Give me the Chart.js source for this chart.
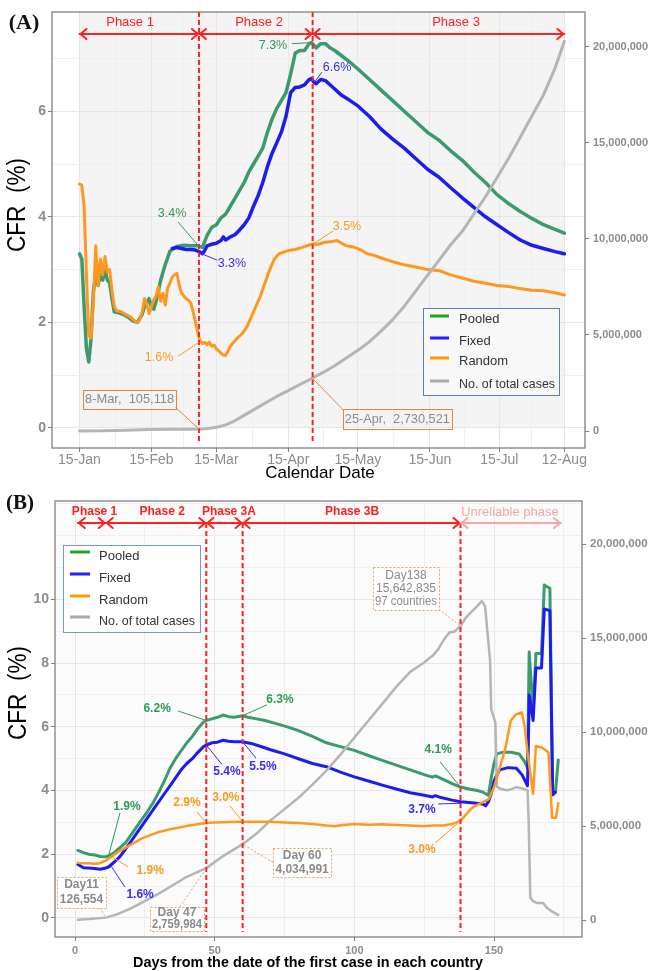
<!DOCTYPE html>
<html>
<head>
<meta charset="utf-8">
<title>CFR by phase</title>
<script src="https://cdn.jsdelivr.net/npm/chart.js@4.4.1/dist/chart.umd.min.js"></script>
<style>
  html, body { margin: 0; padding: 0; background: #fff; }
  #wrap { position: relative; width: 651px; height: 971px; }
  canvas { position: absolute; left: 0; }
  #chartA { top: 0; }
  #chartB { top: 485px; }
</style>
</head>
<body>
<div id="wrap">
  <canvas id="chartA" width="651" height="486"></canvas>
  <canvas id="chartB" width="651" height="486"></canvas>
</div>
<script>
// ---- Panel A: x = days after 15-Jan ----
const dateTickDays = [0, 31, 59, 90, 120, 151, 181, 209];
const dateTickLabels = ['15-Jan', '15-Feb', '15-Mar', '15-Apr', '15-May', '15-Jun', '15-Jul', '12-Aug'];
const cfrTicksA = [0, 2, 4, 6];
const caseTicks = [0, 5000000, 10000000, 15000000, 20000000];
const phaseDaysA = [51.5, 100.5];

const pooledA = [[0,3.3],[1,3.2],[2,2.3],[3,1.5],[4,1.25],[5,1.7],[6,2.6],[7,2.9],[8,2.7],[9,2.9],[10,2.8],[11,3.0],[12,2.8],[13,2.75],[14,2.45],[15,2.2],
  [17,2.18],[19,2.15],[21,2.1],[23,2.03],[25,2.0],[27,2.15],[28,2.3],[30,2.45],[31,2.3],[32,2.25],[33,2.4],[35,2.8],[37,3.1],[39,3.35],[42,3.44],[45,3.46],[48,3.45],[51,3.45],[53,3.42],
  [55,3.65],[57,3.8],[59,3.85],[61,3.98],[63,4.05],[65,4.2],[67,4.35],[69,4.5],[71,4.65],[73,4.85],[75,5.0],[77,5.15],[79,5.3],[81,5.6],[83,5.85],[85,6.05],[87,6.2],[89,6.35],[91,6.7],[93,7.1],[95,7.15],[97,7.15],[99,7.28],
  [100,7.3],[101,7.25],[102,7.2],[104,7.28],[106,7.28],[108,7.2],[110,7.15],[113,7.05],[116,6.95],[120,6.8],
  [125,6.6],[130,6.4],[135,6.2],[140,6.0],[145,5.8],[150,5.6],[155,5.45],[160,5.25],[165,5.07],[170,4.85],[175,4.65],[180,4.42],[185,4.25],[190,4.1],[195,3.97],[200,3.85],[205,3.76],[209,3.69]];
const fixedA = [[40,3.4],[42,3.42],[44,3.4],[46,3.38],[48,3.38],[50,3.37],[52,3.33],[53,3.3],[54,3.36],[55,3.45],[57,3.48],[59,3.5],[61,3.55],[62,3.62],[63,3.56],[65,3.62],[67,3.66],[69,3.75],[71,3.85],[73,3.98],[75,4.2],[77,4.4],[79,4.65],[81,4.95],[83,5.2],[85,5.4],[87,5.6],[89,5.9],[91,6.35],[93,6.45],[95,6.46],[97,6.5],[99,6.6],[100,6.62],[101,6.55],[102,6.52],[104,6.6],[106,6.58],[108,6.5],[110,6.42],[113,6.3],[116,6.22],[120,6.1],[125,5.9],[130,5.66],[135,5.47],[140,5.3],[145,5.1],[150,4.9],[155,4.75],[160,4.55],[165,4.36],[170,4.18],[175,4.0],[180,3.85],[185,3.7],[190,3.56],[195,3.46],[200,3.4],[205,3.34],[209,3.3]];
const randomA = [[0,4.62],[1,4.6],[2,4.2],[3,2.9],[4,1.75],[5,1.7],[6,2.4],[7,3.45],[8,2.7],[9,3.2],[10,2.9],[11,3.25],[12,2.95],[13,3.0],[14,2.6],[15,2.3],[16,2.22],[18,2.2],[20,2.15],[22,2.1],[24,2.02],[25,2.0],[26,2.05],[27,2.2],[28,2.45],[29,2.35],[30,2.17],[31,2.3],[32,2.42],[33,2.5],[34,2.67],[35,2.4],[36,2.55],[37,2.33],[38,2.65],[39,2.75],[40,2.86],[41,2.9],[42,2.93],[43,2.7],[44,2.55],[45,2.5],[46,2.45],[47,2.42],[48,2.36],[49,2.2],[50,2.0],[51,1.8],[52,1.65],[53,1.6],[54,1.62],[55,1.58],[56,1.62],[57,1.55],[58,1.57],[59,1.5],[60,1.46],[61,1.42],[62,1.38],[63,1.38],[64,1.45],[65,1.55],[66,1.6],[68,1.7],[70,1.78],[72,1.9],[74,2.1],[76,2.3],[78,2.5],[80,2.75],[82,3.0],[84,3.2],[86,3.3],[88,3.33],[90,3.36],[93,3.38],[96,3.42],[100,3.48],[103,3.48],[106,3.52],[109,3.53],[111,3.55],[113,3.5],[115,3.45],[118,3.43],[121,3.38],[124,3.3],[127,3.27],[130,3.22],[135,3.15],[140,3.09],[145,3.05],[150,3.0],[155,2.98],[160,2.9],[165,2.84],[170,2.78],[175,2.74],[180,2.7],[185,2.68],[190,2.64],[195,2.61],[200,2.6],[205,2.56],[209,2.52]];
const casesA = [[0,500],[10,8000],[20,45000],[30,75000],[40,85000],[47,95000],[53,105118],[57,160000],[60,220000],[63,320000],[66,470000],[70,750000],[75,1100000],[80,1450000],[85,1800000],[90,2100000],[95,2420000],[100,2730521],[105,3050000],[110,3400000],[115,3800000],[120,4200000],[125,4650000],[130,5200000],[135,5800000],[140,6500000],[145,7300000],[150,8100000],[155,8900000],[160,9700000],[165,10400000],[170,11300000],[175,12200000],[180,13200000],[185,14200000],[190,15300000],[195,16400000],[200,17500000],[205,18900000],[209,20300000]];

// ---- Panel B: x = days from first case in each country ----
const dayTicksB = [0, 50, 100, 150];
const cfrTicksB = [0, 2, 4, 6, 8, 10];
const phaseDaysB = [47, 60, 138];

const pooledB = [[1,2.12],[3,2.05],[5,2.0],[7,1.98],[9,1.93],[11,1.92],[12,1.95],[14,2.05],[16,2.2],[18,2.35],[20,2.6],[22,2.85],[24,3.1],[26,3.35],[28,3.62],[30,3.95],[32,4.3],[34,4.7],[36,5.0],[38,5.25],[40,5.5],[42,5.7],[44,5.95],[46,6.15],[47,6.2],[49,6.25],[51,6.3],[53,6.37],[55,6.32],[57,6.3],[59,6.33],[60,6.35],[62,6.3],[65,6.25],[68,6.2],[72,6.1],[76,6.0],[80,5.88],[85,5.7],[90,5.5],[95,5.38],[100,5.26],[105,5.1],[110,4.95],[115,4.8],[120,4.65],[125,4.5],[128,4.42],[129,4.46],[131,4.38],[135,4.22],[138,4.11],[141,4.05],[144,4.0],[146,3.95],[147,3.9],[148,3.85],[149,4.4],[150,4.85],[151,5.15],[153,5.2],[156,5.2],[159,5.15],[161,4.9],[162,4.7],[162.6,8.35],[164,6.5],[165,8.3],[167,8.3],[168,10.45],[170,10.35],[171,4.0],[172,3.95],[173,4.96]];
const fixedB = [[1,1.68],[3,1.58],[5,1.57],[7,1.55],[9,1.53],[11,1.57],[12,1.6],[14,1.75],[16,1.92],[18,2.15],[20,2.4],[22,2.65],[24,2.9],[26,3.15],[28,3.4],[30,3.65],[32,3.9],[34,4.15],[36,4.4],[38,4.65],[40,4.85],[42,5.0],[44,5.2],[46,5.38],[47,5.43],[49,5.5],[51,5.52],[53,5.58],[55,5.55],[57,5.53],[60,5.53],[63,5.48],[66,5.4],[70,5.28],[75,5.15],[80,5.0],[85,4.85],[90,4.75],[95,4.58],[100,4.43],[105,4.3],[110,4.17],[115,4.05],[120,3.93],[125,3.85],[128,3.8],[129,3.84],[131,3.78],[135,3.7],[138,3.65],[142,3.62],[146,3.58],[147,3.52],[148,3.65],[149,3.9],[150,4.3],[152,4.65],[155,4.72],[158,4.7],[160,4.5],[162,4.15],[162.6,7.0],[164,6.2],[165,7.85],[167,7.85],[168,9.7],[170,9.65],[171,3.86],[172,3.95]];
const randomB = [[1,1.73],[3,1.72],[5,1.72],[7,1.7],[9,1.72],[11,1.8],[13,1.92],[15,2.05],[18,2.2],[21,2.35],[24,2.5],[27,2.6],[30,2.7],[33,2.76],[36,2.82],[39,2.87],[42,2.92],[45,2.96],[47,2.98],[50,3.0],[55,3.01],[60,3.02],[65,3.02],[70,3.02],[75,3.0],[80,2.98],[85,2.95],[90,2.9],[93,2.88],[96,2.92],[100,2.95],[105,2.93],[110,2.94],[115,2.92],[120,2.9],[125,2.88],[128,2.9],[132,2.9],[135,2.95],[138,3.05],[140,3.25],[142,3.45],[144,3.55],[147,3.68],[148,3.72],[150,4.1],[152,4.7],[154,5.3],[156,6.2],[158,6.4],[160,6.45],[161,6.0],[162,5.2],[164,3.9],[165,5.4],[167,5.35],[169.5,5.2],[170.8,3.15],[172.2,3.15],[173,3.6]];
const casesB = [[1,20000],[5,50000],[11,126554],[15,300000],[20,620000],[25,1000000],[30,1400000],[35,1850000],[40,2300000],[47,2759984],[53,3400000],[60,4034991],[65,4600000],[70,5300000],[75,5900000],[80,6500000],[85,7200000],[90,7950000],[95,8800000],[100,9700000],[105,10600000],[110,11500000],[115,12400000],[120,13200000],[125,13700000],[127,13950000],[128,14050000],[130,14400000],[132,14900000],[134,15300000],[136,15350000],[138,15642835],[140,16100000],[142,16400000],[144,16700000],[145.6,16970000],[146.8,16700000],[148.6,13800000],[149,11200000],[150.5,10500000],[151,7100000],[152,7000000],[154.6,6900000],[156,6950000],[158,7070000],[160,7000000],[162,6900000],[162.4,5300000],[163,1200000],[164,1000000],[165.4,900000],[167.6,900000],[169,640000],[171,430000],[173,270000]];

const legendLabels = ['Pooled', 'Fixed', 'Random', 'No. of total cases'];

// ---- styles ----
const FAM = '"Liberation Sans", Arial, sans-serif';
const G_LINE = '#3c9b6d', B_LINE = '#1c1cf2', O_LINE = '#ff981f', C_LINE = '#b5b5b5';
const G_TXT = '#2f9b58', B_TXT = '#3b2cf0', O_TXT = '#f39c20', GRAY_TXT = '#8c8c8c';
const RED = '#ff2020', PINK = '#f6a6a6';
const LEGEND_COLORS = ['#22a722', '#2020ff', '#ff9a00', '#aaaaaa'];

function pts(pairs) { return pairs.map(p => ({ x: p[0], y: p[1] })); }

function series(label, pairs, color, width, axis) {
  return { label: label, data: pts(pairs), borderColor: color, borderWidth: width, pointRadius: 0,
    fill: false, tension: 0, yAxisID: axis, borderJoinStyle: 'round', borderCapStyle: 'round' };
}

function midpoints(arr) {
  const out = [];
  arr.forEach((v, i) => { out.push(v); if (i < arr.length - 1) out.push((v + arr[i + 1]) / 2); });
  return out;
}

function makeScales(o) {
  const majX = c => o.xMajor.includes(c.tick.value);
  const majY = c => o.yMajor.includes(c.tick.value);
  return {
    x: {
      type: 'linear', min: o.xMin, max: o.xMax,
      afterBuildTicks: s => { s.ticks = o.xGrid.map(v => ({ value: v })); },
      afterFit: s => { s.height = o.xHeight; },
      border: { display: false },
      grid: { color: c => majX(c) ? '#e6e6e6' : '#efefef', tickLength: 4,
        tickColor: c => majX(c) ? '#7f7f7f' : 'rgba(0,0,0,0)' },
      ticks: { autoSkip: false, maxRotation: 0, padding: o.xPad, color: GRAY_TXT, font: o.xFont,
        callback: v => { const i = o.xMajor.indexOf(v); return i < 0 ? '' : o.xLabels[i]; } }
    },
    y: {
      type: 'linear', position: 'left', min: o.yMin, max: o.yMax,
      afterBuildTicks: s => { s.ticks = o.yGrid.map(v => ({ value: v })); },
      afterFit: s => { s.width = o.yWidth; },
      border: { display: false },
      grid: { color: c => majY(c) ? '#e6e6e6' : '#efefef', tickLength: 4,
        tickColor: c => majY(c) ? '#7f7f7f' : 'rgba(0,0,0,0)' },
      ticks: { padding: 2, color: GRAY_TXT, font: o.yFont,
        callback: v => o.yMajor.includes(v) ? String(v) : '' }
    },
    y2: {
      type: 'linear', position: 'right', min: o.y2Min, max: o.y2Max,
      afterBuildTicks: s => { s.ticks = caseTicks.map(v => ({ value: v })); },
      afterFit: s => { s.width = o.y2Width; },
      border: { display: false },
      grid: { drawOnChartArea: false, tickLength: 4, tickColor: '#7f7f7f' },
      ticks: { padding: 4, color: GRAY_TXT, font: o.y2Font, callback: v => v.toLocaleString('en-US') }
    }
  };
}

// ---- drawing helpers ----
function txt(ctx, s, x, y, color, font, align, maxW) {
  ctx.save();
  ctx.fillStyle = color; ctx.font = font; ctx.textAlign = align || 'center'; ctx.textBaseline = 'middle';
  if (maxW) ctx.fillText(s, x, y, maxW); else ctx.fillText(s, x, y);
  ctx.restore();
}
function seg(ctx, x1, y1, x2, y2, color, w, dash) {
  ctx.save();
  ctx.strokeStyle = color; ctx.lineWidth = w; ctx.setLineDash(dash || []);
  ctx.beginPath(); ctx.moveTo(x1, y1); ctx.lineTo(x2, y2); ctx.stroke();
  ctx.restore();
}
function arrow(ctx, x1, x2, y, color) {
  ctx.save();
  ctx.strokeStyle = color; ctx.lineWidth = 2; ctx.lineCap = 'round'; ctx.lineJoin = 'round';
  ctx.beginPath(); ctx.moveTo(x1, y); ctx.lineTo(x2, y); ctx.stroke();
  ctx.beginPath();
  ctx.moveTo(x1 + 7, y - 5); ctx.lineTo(x1 + 1, y); ctx.lineTo(x1 + 7, y + 5);
  ctx.moveTo(x2 - 7, y - 5); ctx.lineTo(x2 - 1, y); ctx.lineTo(x2 - 7, y + 5);
  ctx.stroke();
  ctx.restore();
}

function decorPlugin(P) {
  return {
    id: 'decor',
    beforeDraw(chart) {
      const ctx = chart.ctx, a = chart.chartArea, xs = chart.scales.x, ys = chart.scales.y;
      ctx.save();
      ctx.fillStyle = P.bg;
      if (P.bgDays) {
        const x1 = xs.getPixelForValue(P.bgDays[0]), x2 = xs.getPixelForValue(P.bgDays[1]);
        ctx.fillRect(x1, a.top, x2 - x1, ys.getPixelForValue(0) - a.top);
      } else {
        ctx.fillRect(a.left, a.top, a.right - a.left, a.bottom - a.top);
      }
      ctx.restore();
    },
    afterDatasetsDraw(chart) {
      const ctx = chart.ctx, xs = chart.scales.x, ys = chart.scales.y, y2 = chart.scales.y2;
      const px = v => xs.getPixelForValue(v);
      const py = v => ys.getPixelForValue(v);
      const pc = v => y2.getPixelForValue(v);

      P.vlines.forEach(d => seg(ctx, px(d), P.vTop, px(d), P.vBottom, RED, 2, [5, 3]));
      P.arrows.forEach(r => arrow(ctx, px(r[0]), px(r[1]), P.arrowY, r[2]));
      P.phases.forEach(r => txt(ctx, r[0], px(r[1]), P.phaseY, r[2], r[3]));

      P.labels.forEach(l => {
        seg(ctx, px(l.from[0]), py(l.from[1]), px(l.to[0]), py(l.to[1]), l.c, 1);
        txt(ctx, l.t, px(l.at[0]), py(l.at[1]), l.c, P.labelFont);
      });

      P.boxes.forEach(b => {
        const cx = px(b.cx), cy = py(b.cy);
        seg(ctx, cx + b.from[0], cy + b.from[1], px(b.to[0]), pc(b.to[1]), P.boxBorder, 1, P.boxDash);
        ctx.save();
        if (P.boxFill) { ctx.fillStyle = P.boxFill; ctx.fillRect(cx - b.w / 2, cy - b.h / 2, b.w, b.h); }
        ctx.strokeStyle = P.boxBorder; ctx.lineWidth = 1; ctx.setLineDash(P.boxDash || []);
        ctx.strokeRect(Math.round(cx - b.w / 2) + 0.5, Math.round(cy - b.h / 2) + 0.5, b.w, b.h);
        ctx.restore();
        const lh = b.lh || 14, y0 = cy - (b.lines.length - 1) * lh / 2;
        b.lines.forEach((s, i) => txt(ctx, s, cx, y0 + i * lh, '#8a8a8a', b.font || P.boxFont, 'center', b.w - 4));
      });

      const L = P.legend;
      ctx.save();
      ctx.fillStyle = L.bg; ctx.fillRect(L.x, L.y, L.w, L.h);
      ctx.strokeStyle = L.border; ctx.lineWidth = 1; ctx.strokeRect(L.x + 0.5, L.y + 0.5, L.w, L.h);
      ctx.restore();
      legendLabels.forEach((s, i) => {
        seg(ctx, L.x1, L.rows[i], L.x2, L.rows[i], LEGEND_COLORS[i], 3);
        txt(ctx, s, L.tx, L.rows[i] + L.dy, '#333333', '13px ' + FAM, 'left', 96);
      });
    },
    afterDraw(chart) {
      const ctx = chart.ctx, a = chart.chartArea;
      ctx.save();
      ctx.strokeStyle = '#808080'; ctx.lineWidth = 1.3;
      ctx.strokeRect(a.left, a.top, a.right - a.left, a.bottom - a.top);
      ctx.restore();
      txt(ctx, P.tag, P.tagPos[0], P.tagPos[1], '#111', P.tagFont, 'center');
      txt(ctx, P.xTitle, P.xTitlePos[0], P.xTitlePos[1], '#000', P.xTitleFont, 'center', P.xTitleW);
      ctx.save();
      ctx.translate(P.yTitlePos[0], P.yTitlePos[1]);
      ctx.rotate(-Math.PI / 2);
      txt(ctx, 'CFR  (%)', 0, 0, '#000', '25px ' + FAM, 'center', 94);
      ctx.restore();
    }
  };
}

document.addEventListener('DOMContentLoaded', function () {
  const common = { responsive: false, animation: false, events: [],
    plugins: { legend: { display: false }, tooltip: { enabled: false } } };

  // ---------- Panel A ----------
  const panelA = {
    bg: '#f4f4f4', bgDays: [dateTickDays[0], dateTickDays[dateTickDays.length - 1]],
    vlines: phaseDaysA, vTop: 12, vBottom: 443,
    arrowY: 34, phaseY: 22,
    arrows: [[0, phaseDaysA[0], RED], [phaseDaysA[0], phaseDaysA[1], RED], [phaseDaysA[1], 209, RED]],
    phases: [['Phase 1', 21.8, RED, '13px ' + FAM], ['Phase 2', 77.4, RED, '13px ' + FAM], ['Phase 3', 162.3, RED, '13px ' + FAM]],
    labelFont: '12.5px ' + FAM,
    labels: [
      { t: '7.3%', c: G_TXT, at: [83.4, 7.25], from: [91.6, 7.28], to: [100.5, 7.3] },
      { t: '6.6%', c: B_TXT, at: [111, 6.82], from: [104.5, 6.74], to: [101.3, 6.55] },
      { t: '3.4%', c: G_TXT, at: [39.9, 4.07], from: [42.5, 3.9], to: [51.5, 3.44] },
      { t: '3.3%', c: B_TXT, at: [65.7, 3.12], from: [59.3, 3.18], to: [51.5, 3.32] },
      { t: '1.6%', c: O_TXT, at: [34.3, 1.34], from: [42.5, 1.36], to: [51.5, 1.62] },
      { t: '3.5%', c: O_TXT, at: [115.3, 3.81], from: [109.3, 3.73], to: [100.5, 3.48] }
    ],
    boxBorder: '#e8843a', boxDash: null, boxFill: null, boxFont: '13px ' + FAM,
    boxes: [
      { lines: ['8-Mar,  105,118'], cx: 21.6, cy: 0.54, w: 93, h: 19, from: [46, 8], to: [phaseDaysA[0], 105118] },
      { lines: ['25-Apr,  2,730,521'], cx: 137, cy: 0.17, w: 109, h: 20, from: [-54, -9], to: [phaseDaysA[1], 2730521] }
    ],
    legend: { x: 423, y: 308, w: 136, h: 87, bg: '#f8f8f8', border: '#5b7fae',
      rows: [316, 338, 358, 381], dy: 3, x1: 430, x2: 449, tx: 459 },
    tag: '(A)', tagPos: [24, 23], tagFont: 'bold 22px "Liberation Serif", "Times New Roman", serif',
    xTitle: 'Calendar Date', xTitlePos: [320, 473], xTitleFont: '17px ' + FAM, xTitleW: 112,
    yTitlePos: [18, 205]
  };

  new Chart(document.getElementById('chartA').getContext('2d'), {
    type: 'line',
    data: { datasets: [
      series('No. of total cases', casesA, C_LINE, 3, 'y2'),
      series('Random', randomA, O_LINE, 3, 'y'),
      series('Fixed', fixedA, B_LINE, 3.5, 'y'),
      series('Pooled', pooledA, G_LINE, 3.5, 'y')
    ] },
    options: Object.assign({}, common, {
      layout: { padding: { top: 12, left: 0, right: 0, bottom: 0 } },
      scales: makeScales({
        xMin: -11.85, xMax: 217.9, xGrid: midpoints(dateTickDays), xMajor: dateTickDays, xLabels: dateTickLabels,
        xHeight: 38, xPad: 0, xFont: { family: FAM, size: 14 },
        yMin: -0.379, yMax: 7.879, yGrid: [0, 1, 2, 3, 4, 5, 6, 7], yMajor: cfrTicksA, yWidth: 52,
        yFont: { family: FAM, size: 14, weight: 'bold' },
        y2Min: -885000, y2Max: 21820000, y2Width: 66, y2Font: { family: FAM, size: 11, weight: 'bold' }
      })
    }),
    plugins: [decorPlugin(panelA)]
  });

  // ---------- Panel B ----------
  const panelB = {
    bg: '#fbfbfb', bgDays: null,
    vlines: phaseDaysB, vTop: 38, vBottom: 447,
    arrowY: 38, phaseY: 27,
    arrows: [[1, 11, RED], [11, phaseDaysB[0], RED], [phaseDaysB[0], phaseDaysB[1], RED], [phaseDaysB[1], phaseDaysB[2], RED], [phaseDaysB[2], 174, PINK]],
    phases: [['Phase 1', 7, RED, 'bold 12px ' + FAM], ['Phase 2', 31.2, RED, 'bold 12px ' + FAM],
      ['Phase 3A', 55.1, RED, 'bold 12px ' + FAM], ['Phase 3B', 99.2, RED, 'bold 12px ' + FAM],
      ['Unreliable phase', 155.7, PINK, '13px ' + FAM]],
    labelFont: 'bold 12px ' + FAM,
    labels: [
      { t: '6.2%', c: G_TXT, at: [29.4, 6.56], from: [36.9, 6.5], to: [47, 6.2] },
      { t: '6.3%', c: G_TXT, at: [73.4, 6.84], from: [68.7, 6.69], to: [60, 6.35] },
      { t: '5.4%', c: B_TXT, at: [54.4, 4.58], from: [52.6, 4.82], to: [47, 5.43] },
      { t: '5.5%', c: B_TXT, at: [67.3, 4.74], from: [64.8, 5.02], to: [60, 5.53] },
      { t: '1.9%', c: G_TXT, at: [18.6, 3.49], from: [16.1, 3.3], to: [12, 1.95] },
      { t: '2.9%', c: O_TXT, at: [40.1, 3.61], from: [43.7, 3.33], to: [47, 2.98] },
      { t: '3.0%', c: O_TXT, at: [54, 3.77], from: [55.5, 3.52], to: [60, 3.02] },
      { t: '1.9%', c: O_TXT, at: [26.9, 1.5], from: [19, 1.6], to: [13.6, 1.9] },
      { t: '1.6%', c: B_TXT, at: [23.3, 0.72], from: [17.9, 0.97], to: [13, 1.62] },
      { t: '4.1%', c: G_TXT, at: [130, 5.27], from: [130.7, 4.9], to: [138, 4.11] },
      { t: '3.7%', c: B_TXT, at: [124.2, 3.39], from: [130, 3.58], to: [138, 3.6] },
      { t: '3.0%', c: O_TXT, at: [124.2, 2.13], from: [128.9, 2.35], to: [138, 3.05] }
    ],
    boxBorder: '#e0a06a', boxDash: [2, 2], boxFill: '#ffffff', boxFont: 'bold 12px ' + FAM,
    boxes: [
      { lines: ['Day11', '126,554'], cx: 2.33, cy: 0.8, w: 49, h: 31, lh: 15, from: [18, 15], to: [11, 126554] },
      { lines: ['Day 47', '2,759,984'], cx: 36.5, cy: -0.03, w: 54, h: 24, lh: 12, from: [3, -12], to: [phaseDaysB[0], 2759984] },
      { lines: ['Day 60', '4,034,991'], cx: 81.3, cy: 1.74, w: 58, h: 29, lh: 14, from: [-29, 0], to: [phaseDaysB[1], 4034991] },
      { lines: ['Day138', '15,642,835', '97 countries'], cx: 118.5, cy: 10.35, w: 66, h: 43, lh: 13, font: '12px ' + FAM,
        from: [33, 21], to: [phaseDaysB[2], 15642835] }
    ],
    legend: { x: 63, y: 60, w: 137, h: 87, bg: '#ffffff', border: '#7a99c0',
      rows: [67, 89, 111, 132], dy: 4, x1: 70, x2: 90, tx: 99 },
    tag: '(B)', tagPos: [20, 19], tagFont: 'bold 21px "Liberation Serif", "Times New Roman", serif',
    xTitle: 'Days from the date of the first case in each country', xTitlePos: [308, 478],
    xTitleFont: 'bold 15px ' + FAM, xTitleW: 350,
    yTitlePos: [19, 208]
  };

  new Chart(document.getElementById('chartB').getContext('2d'), {
    type: 'line',
    data: { datasets: [
      series('Random', randomB, O_LINE, 2.5, 'y'),
      series('No. of total cases', casesB, C_LINE, 2.5, 'y2'),
      series('Fixed', fixedB, B_LINE, 3, 'y'),
      series('Pooled', pooledB, G_LINE, 3, 'y')
    ] },
    options: Object.assign({}, common, {
      layout: { padding: { top: 16, left: 0, right: 0, bottom: 0 } },
      scales: makeScales({
        xMin: -7.16, xMax: 181.5, xGrid: [0, 25, 50, 75, 100, 125, 150, 175], xMajor: dayTicksB,
        xLabels: dayTicksB.map(String),
        xHeight: 34, xPad: 3, xFont: { family: FAM, size: 11, weight: 'bold' },
        yMin: -0.597, yMax: 13.09, yGrid: [0, 1, 2, 3, 4, 5, 6, 7, 8, 9, 10, 11, 12, 13], yMajor: cfrTicksB, yWidth: 55,
        yFont: { family: FAM, size: 14, weight: 'bold' },
        y2Min: -904000, y2Max: 22290000, y2Width: 69, y2Font: { family: FAM, size: 11.5, weight: 'bold' }
      })
    }),
    plugins: [decorPlugin(panelB)]
  });
});
</script>
</body>
</html>
